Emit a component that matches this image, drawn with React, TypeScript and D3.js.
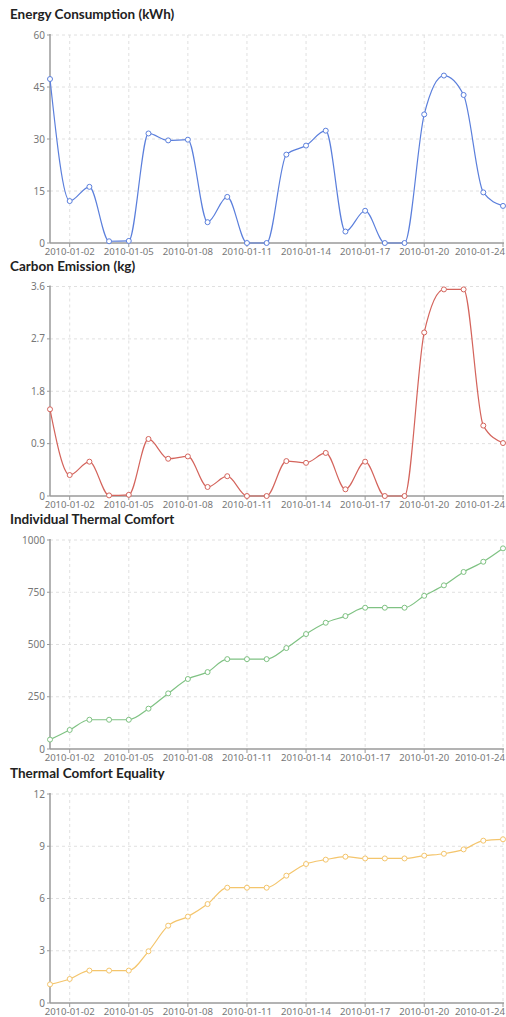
import React from "react";
import * as d3 from "d3";

const dates: string[] = Array.from({ length: 24 }, (_, i) => `2010-01-${String(i + 1).padStart(2, "0")}`);
const xTickDays: number[] = [2, 5, 8, 11, 14, 17, 20, 24];

const energy: number[] = [47.3, 12.1, 16.2, 0.5, 0.6, 31.6, 29.6, 29.8, 6.0, 13.3, 0, 0, 25.5, 28.1, 32.4, 3.3, 9.3, 0, 0, 37.1, 48.3, 42.7, 14.6, 10.7];
const carbon: number[] = [1.49, 0.36, 0.59, 0.01, 0.02, 0.98, 0.64, 0.68, 0.155, 0.34, 0, 0, 0.6, 0.57, 0.74, 0.115, 0.59, 0, 0, 2.81, 3.55, 3.55, 1.21, 0.91];
const thermal: number[] = [45, 91, 140, 140, 140, 193, 266, 335, 368, 430, 430, 430, 483, 550, 604, 636, 676, 676, 676, 733, 783, 847, 896, 960];
const equality: number[] = [1.07, 1.38, 1.86, 1.86, 1.86, 2.97, 4.44, 4.96, 5.68, 6.62, 6.62, 6.62, 7.31, 7.98, 8.23, 8.4, 8.3, 8.3, 8.3, 8.46, 8.57, 8.82, 9.32, 9.4];

const energyTicks = [0, 15, 30, 45, 60];
const carbonTicks = [0, 0.9, 1.8, 2.7, 3.6];
const thermalTicks = [0, 250, 500, 750, 1000];
const equalityTicks = [0, 3, 6, 9, 12];

const panels = [
  { title: "Energy Consumption (kWh)", values: energy, ticks: energyTicks, color: "#5b7fdc", top: 35, bottom: 243 },
  { title: "Carbon Emission (kg)", values: carbon, ticks: carbonTicks, color: "#d4645c", top: 286.5, bottom: 496 },
  { title: "Individual Thermal Comfort", values: thermal, ticks: thermalTicks, color: "#7fc283", top: 540, bottom: 749 },
  { title: "Thermal Comfort Equality", values: equality, ticks: equalityTicks, color: "#f4c56c", top: 794, bottom: 1003 },
];

const FONT = "'Noto Sans', 'Liberation Sans', sans-serif";
const TITLE_FONT = "Lato, 'Noto Sans', sans-serif";

function Panel({ p }: { p: typeof panels[number] }) {
  const left = 50;
  const right = 503;
  const x = d3.scaleLinear().domain([0, dates.length - 1]).range([left, right]);
  const yMax = p.ticks[p.ticks.length - 1];
  const y = d3.scaleLinear().domain([0, yMax]).range([p.bottom, p.top]);
  const line = d3
    .line<number>()
    .x((_, i) => x(i))
    .y((v) => y(v))
    .curve(d3.curveMonotoneX);
  const gridColor = "#e0e0e0";
  const axisColor = "#9a9a9a";
  return (
    <g>
      <text x={10} y={p.top - 16} fontFamily={TITLE_FONT} fontSize={13.5} fontWeight="bold" fill="#222">
        {p.title}
      </text>
      {p.ticks.map((t) =>
        t === 0 ? null : (
          <line key={"h" + t} x1={left} x2={right} y1={y(t)} y2={y(t)} stroke={gridColor} strokeDasharray="3,3" strokeWidth={1} />
        )
      )}
      {xTickDays.map((d) => (
        <line key={"v" + d} x1={x(d - 1)} x2={x(d - 1)} y1={p.top} y2={p.bottom} stroke={gridColor} strokeDasharray="3,3" strokeWidth={1} />
      ))}
      <line x1={left} x2={left} y1={p.top - 1} y2={p.bottom} stroke={axisColor} strokeWidth={1.5} />
      <line x1={left} x2={right + 1} y1={p.bottom} y2={p.bottom} stroke={axisColor} strokeWidth={1.5} />
      {p.ticks.map((t) => (
        <g key={"yt" + t}>
          <line x1={left - 3} x2={left} y1={y(t)} y2={y(t)} stroke={axisColor} />
          <text x={left - 5} y={y(t)} dy="0.35em" textAnchor="end" fontFamily={FONT} fontSize={10} fill="#777">
            {String(t)}
          </text>
        </g>
      ))}
      {xTickDays.map((d, k) => {
        const last = k === xTickDays.length - 1;
        return (
          <g key={"xt" + d}>
            <line x1={x(d - 1)} x2={x(d - 1)} y1={p.bottom} y2={p.bottom + 4} stroke={axisColor} />
            <text
              x={last ? 505 : x(d - 1)}
              y={p.bottom + 12}
              textAnchor={last ? "end" : "middle"}
              fontFamily={FONT}
              fontSize={9.6}
              fill="#777"
            >
              {dates[d - 1]}
            </text>
          </g>
        );
      })}
      <path d={line(p.values) || ""} fill="none" stroke={p.color} strokeWidth={1.2} />
      {p.values.map((v, i) => (
        <circle key={i} cx={x(i)} cy={y(v)} r={2.5} fill="#fff" stroke={p.color} strokeWidth={1} />
      ))}
    </g>
  );
}

export default function App() {
  return (
    <svg width={506} height={1017} style={{ position: "absolute", left: 0, top: 0, background: "#fff" }}>
      {panels.map((p) => (
        <Panel key={p.title} p={p} />
      ))}
    </svg>
  );
}
